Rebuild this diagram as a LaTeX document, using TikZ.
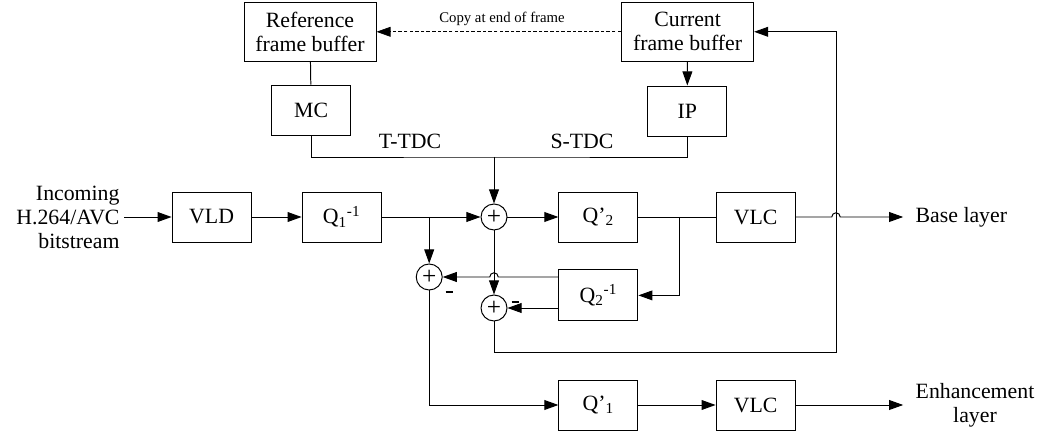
\documentclass[tikz,border=0pt]{standalone}
\usepackage{fontspec}
\setmainfont{Liberation Serif}
\usetikzlibrary{arrows.meta}
\tikzstyle{block}=[rectangle,draw,minimum width=1.975cm,minimum height=1.25cm,align=center,inner sep=0pt]
\tikzstyle{buffer}=[block,minimum width=3.3cm,minimum height=1.475cm]
\tikzstyle{sum}=[circle,draw,minimum size=0.65cm,inner sep=0pt,font=\fontsize{18}{18}\selectfont]
\tikzstyle{minus}=[inner sep=0pt]
\tikzstyle{small}=[font=\fontsize{10.5}{12}\selectfont]

\begin{document}
\begin{tikzpicture}[line width=0.7pt,>={Triangle[length=10pt,width=7pt]},font=\fontsize{15.5}{17}\selectfont]
  \useasboundingbox (0,0) rectangle (25.975,10.825);
  \node[buffer] (rfb) at (7.75,10.03) {Reference\\frame buffer};
  \node[buffer] (cfb) at (17.19,10.03) {Current\\frame buffer};
  \node[block] (mc) at (7.78,8.07) {MC}
    edge [-] (rfb);
  \node[block] (ip) at (17.18,8.05) {IP}
    edge [<-] (cfb);
  \node[small] (cp) at (12.55,10.35) {Copy at end of frame};
  \node (tt) at (10.25,7.3) {T-TDC};
  \node (st) at (14.55,7.3) {S-TDC};

  \node[align=right,anchor=east,inner xsep=0.1cm] (in) at (3.1,5.4) {Incoming\\H.264/AVC\\bitstream};
  \node[block] (vld) at (5.29,5.4) {VLD}
    edge [<-] (in);
  \node[block] (qi1) at (8.54,5.4) {Q\textsubscript{1}\textsuperscript{-1}}
    edge [<-] (vld);
  \node[sum] (s1) at (12.35,5.4) {+}
    edge [<-] (qi1);
  \node[block] (qp2) at (14.96,5.4) {Q’\textsubscript{2}}
    edge [<-] (s1);
  \node[block] (vlc1) at (18.89,5.4) {VLC}
    edge [-] (qp2);
  \node[anchor=west,inner xsep=0.3cm] (bl) at (22.58,5.4) {Base layer};

  \node[sum] (s3) at (10.73,3.9) {+};
  \node[block,minimum height=1.275cm] (qi2) at (14.96,3.44) {Q\textsubscript{2}\textsuperscript{-1}};
  \node[sum] (s2) at (12.35,3.125) {+}
    edge [<-] (s1);
  \node[minus] (m3) at (11.23,3.52) {\rule{5pt}{1.6pt}};
  \node[minus] (m2) at (12.88,3.27) {\rule{5pt}{1.6pt}};

  \node[block] (qp1) at (14.96,0.7) {Q’\textsubscript{1}};
  \node[block] (vlc2) at (18.89,0.7) {VLC}
    edge [<-] (qp1);
  \node[align=center,anchor=west,inner xsep=0.3cm] (el) at (22.58,0.7) {Enhancement\\layer};

  \coordinate (tj) at (12.35,6.9);
  \coordinate (b1) at (10.73,5.4);
  \coordinate (b2) at (16.98,5.4);
  \coordinate (jb) at (20.9,5.4);
  \coordinate (jc) at (12.35,3.9);
  \coordinate (fb) at (20.9,2.025);

  \draw[->,line width=0.5pt,dash pattern=on 2.5pt off 1.5pt] (cfb) -- (rfb);
  \draw (mc.south) |- (tj) -| (ip.south);
  \draw[->] (tj) -- (s1);
  \draw[->] (b1) -- (s3);
  \draw[->] (b2) |- (qi2.east);
  \draw[->] (vlc1.east) -- ([xshift=-3pt]jb) arc[start angle=180,end angle=0,radius=3pt] -- (bl.west);
  \draw[->] (qi2.west |- s3) -- ([xshift=3pt]jc) arc[start angle=0,end angle=180,radius=3pt] -- (s3);
  \draw[->] (qi2.west |- s2) -- (s2);
  \draw[->] (s2.south) |- (fb) |- (cfb.east);
  \draw[->] (s3.south) |- (qp1.west);
  \draw[->] (vlc2) -- (el.west);
\end{tikzpicture}
\end{document}
